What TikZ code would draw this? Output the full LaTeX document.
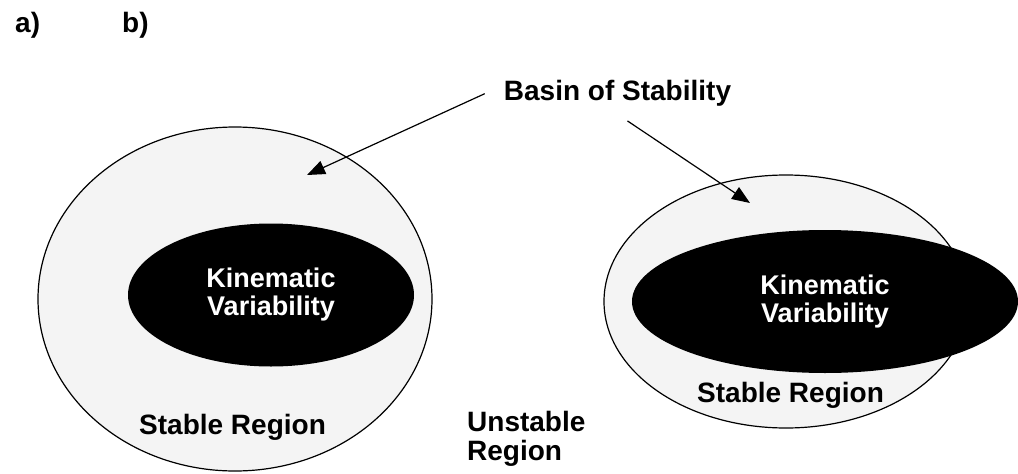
\documentclass[tikz,border=0pt]{standalone}
\usepackage{fontspec}
\setmainfont{Liberation Sans}
\usetikzlibrary{shapes.geometric,arrows.meta}
\definecolor{basinfill}{HTML}{F4F4F4}

\tikzset{
    stableset/.style={ellipse, draw=black, line width=1.2pt, fill=basinfill, inner sep=0pt},
    kinvar/.style={ellipse, fill=black, text=white, inner sep=0pt, align=center,
        font=\bfseries\fontsize{27}{28}\selectfont},
    lbl/.style={inner sep=0pt, font=\bfseries\fontsize{28}{29}\selectfont},
    pointer/.style={line width=1.2pt, -{Triangle[length=18pt,width=14pt]}}
}

\begin{document}
\begin{tikzpicture}[x=1pt, y=-1pt]
        \useasboundingbox (0,0) rectangle (1018,474);
        % panel a
        \node[stableset, minimum width=394pt, minimum height=344pt] (basinA) at (235,299) {};
        \node[kinvar, minimum width=286pt, minimum height=143pt] (kinA) at (271,295) {Kinematic\\Variability};
        % panel b
        \node[stableset, minimum width=364pt, minimum height=253pt] (basinB) at (786,301.5) {};
        \node[kinvar, minimum width=386pt, minimum height=143pt] (kinB) at (825,301.5) {Kinematic\\Variability};
        % labels
        \node[lbl, anchor=base west] (panelA) at (15,32) {a)};
        \node[lbl, anchor=base west] (panelB) at (122,32) {b)};
        \node[lbl, inner xsep=19pt, inner ysep=14pt] (basin) at (617.5,93.7) {Basin of Stability};
        \node[lbl, anchor=base west] (stableA) at (139,434) {Stable Region};
        \node[lbl, anchor=base west] (stableB) at (697,402) {Stable Region};
        \node[lbl, anchor=north west, align=left] (unstable) at (467,411) {Unstable\\Region};
        % arrows
        \coordinate (tipA) at (307,175);
        \coordinate (tipB) at (750,203);
        \draw[pointer] (basin.west) -- (tipA);
        \draw[pointer] ([xshift=10pt]basin.south) -- (tipB);
    \end{tikzpicture}
\end{document}
